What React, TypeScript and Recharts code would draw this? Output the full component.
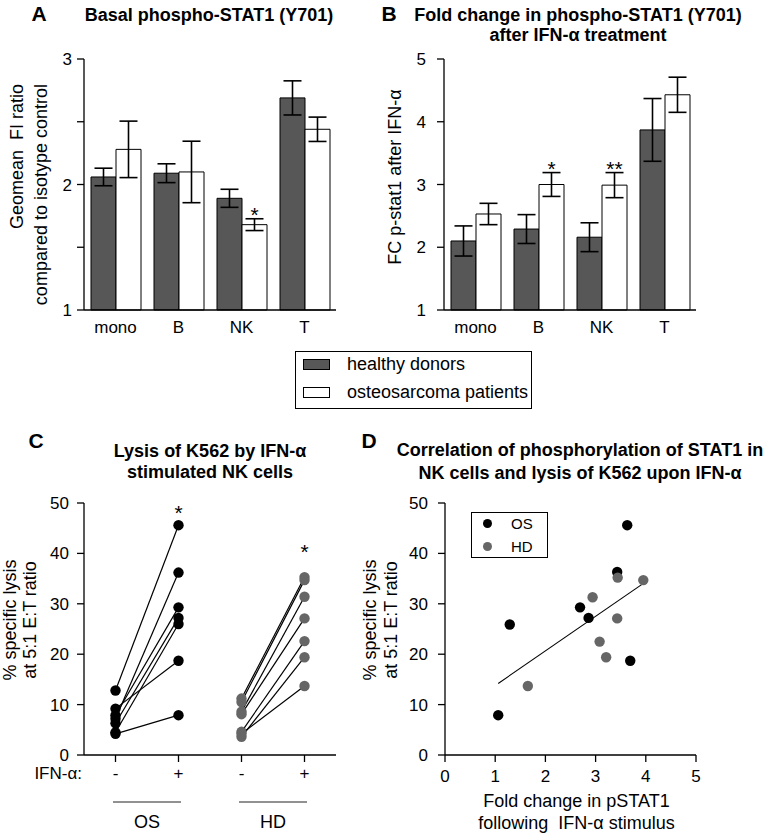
import React from "react"
import {
  BarChart,
  Bar,
  ErrorBar,
  LabelList,
  ComposedChart,
  Scatter,
  Line,
  XAxis,
  YAxis,
  Legend,
} from "recharts"

const FONT = '"Liberation Sans", Arial, Helvetica, sans-serif'
const DARK = "#575757"
const GREY = "#666666"

// A: basal phospho-STAT1
const cellTypes = ["mono", "B", "NK", "T"]
const basalHD = [2.06, 2.09, 1.89, 2.69]
const basalHDErr = [0.07, 0.075, 0.072, 0.136]
const basalOS = [2.28, 2.1, 1.68, 2.44]
const basalOSErr = [0.225, 0.245, 0.047, 0.097]
const basalSig = ["", "", "*", ""]

// B: fold change after IFN-a
const foldHD = [2.1, 2.29, 2.16, 3.87]
const foldHDErr = [0.24, 0.23, 0.23, 0.5]
const foldOS = [2.53, 3.0, 2.99, 4.43]
const foldOSErr = [0.17, 0.19, 0.2, 0.28]
const foldSig = ["", "*", "**", ""]

// C: lysis of K562, paired before/after
const ifnTicks = [0.5, 1.5, 2.5, 3.5]
const ifnLabels = ["-", "+", "-", "+"]
const groupTicks = [1, 3]
const groupNames = ["OS", "HD"]
const osBefore = [12.8, 9.2, 7.9, 7.2, 6.3, 4.5, 4.2]
const osAfter = [45.6, 18.7, 29.3, 36.2, 27.2, 26.0, 7.9]
const hdBefore = [11.2, 10.5, 8.6, 8.1, 4.6, 3.6, 4.2]
const hdAfter = [35.3, 34.7, 31.4, 27.1, 22.6, 19.4, 13.7]
const lysisStarX = [1.5, 3.5]
const lysisStarY = [48.8, 41.1]

// D: correlation
const corrOSx = [3.63, 3.43, 2.69, 2.86, 1.29, 3.69, 1.06]
const corrOSy = [45.6, 36.3, 29.3, 27.2, 25.9, 18.7, 7.9]
const corrHDx = [3.44, 3.95, 2.94, 3.43, 3.08, 3.21, 1.65]
const corrHDy = [35.2, 34.7, 31.3, 27.1, 22.5, 19.4, 13.7]
const trendX = [1.06, 3.96]
const trendY = [14.2, 34.1]

const basalData = cellTypes.map((c, i) => ({
  cell: c, hd: basalHD[i], hdErr: basalHDErr[i], os: basalOS[i], osErr: basalOSErr[i], sig: basalSig[i],
}))
const foldData = cellTypes.map((c, i) => ({
  cell: c, hd: foldHD[i], hdErr: foldHDErr[i], os: foldOS[i], osErr: foldOSErr[i], sig: foldSig[i],
}))

const pairs = (before: number[], after: number[], x0: number, x1: number) =>
  before.map((b, i) => [
    { x: x0, y: b },
    { x: x1, y: after[i] },
  ])
const osPairs = pairs(osBefore, osAfter, 0.5, 1.5)
const hdPairs = pairs(hdBefore, hdAfter, 2.5, 3.5)
const osDots = osPairs.flat()
const hdDots = hdPairs.flat()
const starPts = lysisStarX.map((x, i) => ({ x, y: lysisStarY[i] }))
const groupPts = groupTicks.map((x) => ({ x, y: 0 }))

const corrOS = corrOSx.map((x, i) => ({ x, y: corrOSy[i] }))
const corrHD = corrHDx.map((x, i) => ({ x, y: corrHDy[i] }))
const trend = trendX.map((x, i) => ({ x, y: trendY[i] }))

const AX = { stroke: "#000", strokeWidth: 1.3 }
const tickFont = { fill: "#000", fontSize: 17, fontFamily: FONT }

const yTitle = (lines: string[], xs: number[], y: number, anchor: string) => () => (
  <g>
    {lines.map((t, i) => (
      <text
        key={i}
        x={xs[i]}
        y={y}
        transform={`rotate(-90 ${xs[i]} ${y})`}
        textAnchor={anchor}
        dominantBaseline="central"
        fontSize={18}
        fontFamily={FONT}
        fill="#000"
        style={{ whiteSpace: "pre" }}
      >
        {t}
      </text>
    ))}
  </g>
)

const starLabel = (rows: any[]) => (p: any) => {
  const vb = p.viewBox || p
  const r = rows[p.index]
  if (!r || !r.sig) return null
  const base = 1
  const errPx = (vb.height * r.osErr) / (r.os - base)
  return (
    <text x={vb.x + vb.width / 2} y={vb.y - errPx + 3} textAnchor="middle" fontSize={21} fontFamily={FONT} fill="#000">
      {r.sig}
    </text>
  )
}

const BarLegend = (props: any) => {
  const items = (props.payload || []).filter((it: any) => it.type !== "none")
  return (
    <div
      style={{
        boxSizing: "border-box",
        width: 237,
        height: 58,
        border: "1px solid #000",
        background: "#fff",
        position: "relative",
        fontFamily: FONT,
        fontSize: 18,
        color: "#000",
      }}
    >
      {items.map((it: any, i: number) => (
        <div key={i} style={{ position: "absolute", left: 7, top: i * 28, height: 24, display: "flex", alignItems: "center" }}>
          <span
            style={{ boxSizing: "border-box", display: "inline-block", width: 27, height: 11, border: "1px solid #000", background: it.color }}
          />
          <span style={{ marginLeft: 17, whiteSpace: "nowrap" }}>{it.value}</span>
        </div>
      ))}
    </div>
  )
}

const DotLegend = (props: any) => {
  const items = (props.payload || [])
    .filter((it: any) => it.type !== "none" && groupNames.includes(it.value))
    .sort((a: any, b: any) => groupNames.indexOf(a.value) - groupNames.indexOf(b.value))
  return (
    <div
      style={{
        boxSizing: "border-box",
        width: 77,
        height: 46,
        border: "1px solid #000",
        background: "#fff",
        position: "relative",
        fontFamily: FONT,
        fontSize: 15,
        color: "#000",
      }}
    >
      {items.map((it: any, i: number) => (
        <div key={i} style={{ position: "absolute", left: 11, top: i * 23 - 1, height: 22, display: "flex", alignItems: "center" }}>
          <span style={{ display: "inline-block", width: 9, height: 9, borderRadius: 5, background: it.color }} />
          <span style={{ marginLeft: 19 }}>{it.value}</span>
        </div>
      ))}
    </div>
  )
}

const intOnly = (v: number) => (Number.isInteger(v) ? String(v) : "")

function BasalChart() {
  return (
    <BarChart width={384} height={345} data={basalData} margin={{ top: 59, right: 48, bottom: 0, left: 0 }} barGap={0}>
      <XAxis dataKey="cell" axisLine={AX} tickLine={false} tickSize={0} tickMargin={11} height={35} tick={tickFont} interval={0} />
      <YAxis
        type="number"
        domain={[1, 3]}
        ticks={[1, 1.5, 2, 2.5, 3]}
        interval={0}
        tickFormatter={intOnly}
        width={84}
        axisLine={AX}
        tickLine={AX}
        tickSize={7}
        tickMargin={5}
        tick={tickFont}
        label={{ content: yTitle(["Geomean  FI ratio", "compared to isotype control"], [17, 41], 84, "end") }}
      />
      <Bar dataKey="hd" name="healthy donors" fill={DARK} stroke="#000" strokeWidth={1} barSize={25} isAnimationActive={false}>
        <ErrorBar dataKey="hdErr" width={9} stroke="#000" strokeWidth={1.6} isAnimationActive={false} />
      </Bar>
      <Bar dataKey="os" name="osteosarcoma patients" fill="#fff" stroke="#000" strokeWidth={1} barSize={25} isAnimationActive={false}>
        <ErrorBar dataKey="osErr" width={9} stroke="#000" strokeWidth={1.6} isAnimationActive={false} />
        <LabelList dataKey="os" content={starLabel(basalData)} />
      </Bar>
      <Legend
        content={<BarLegend />}
        layout="vertical"
        align="center"
        verticalAlign="middle"
        itemSorter={null as any}
        wrapperStyle={{ left: 295, top: 351, width: 237, height: 58 }}
      />
    </BarChart>
  )
}

function FoldChart() {
  return (
    <BarChart width={383} height={345} data={foldData} margin={{ top: 59, right: 71, bottom: 0, left: 0 }} barGap={0}>
      <XAxis dataKey="cell" axisLine={AX} tickLine={false} tickSize={0} tickMargin={11} height={35} tick={tickFont} interval={0} />
      <YAxis
        type="number"
        domain={[1, 5]}
        ticks={[1, 2, 3, 4, 5]}
        interval={0}
        width={60}
        axisLine={AX}
        tickLine={AX}
        tickSize={7}
        tickMargin={11}
        tick={tickFont}
        label={{ content: yTitle(["FC p-stat1 after IFN-α"], [11], 177, "middle") }}
      />
      <Bar dataKey="hd" name="healthy donors" fill={DARK} stroke="#000" strokeWidth={1} barSize={25} isAnimationActive={false}>
        <ErrorBar dataKey="hdErr" width={9} stroke="#000" strokeWidth={1.6} isAnimationActive={false} />
      </Bar>
      <Bar dataKey="os" name="osteosarcoma patients" fill="#fff" stroke="#000" strokeWidth={1} barSize={25} isAnimationActive={false}>
        <ErrorBar dataKey="osErr" width={9} stroke="#000" strokeWidth={1.6} isAnimationActive={false} />
        <LabelList dataKey="os" content={starLabel(foldData)} />
      </Bar>
    </BarChart>
  )
}

const dotShape = (fill: string) => (p: any) => <circle cx={p.cx} cy={p.cy} r={5.2} fill={fill} />
const noShape = () => <g />

const StarShape = (p: any) => (
  <text x={p.cx} y={p.cy + 11} textAnchor="middle" fontSize={21} fontFamily={FONT} fill="#000">
    *
  </text>
)

const GroupTick = (p: any) => {
  const name = groupNames[groupTicks.indexOf(p.payload.value)]
  return (
    <g>
      <line x1={p.x - 34} x2={p.x + 34} y1={p.y + 17} y2={p.y + 17} stroke="#222" strokeWidth={1} />
      <text x={p.x} y={p.y + 43} textAnchor="middle" fontSize={18} fontFamily={FONT} fill="#000">
        {name}
      </text>
    </g>
  )
}

const ifnAxisLabel = (p: any) => {
  const vb = p.viewBox || { x: 84, y: 335 }
  return (
    <text x={vb.x - 2} y={vb.y + 24} textAnchor="end" fontSize={17} fontFamily={FONT} fill="#000">
      IFN-α:
    </text>
  )
}

function LysisChart() {
  return (
    <ComposedChart width={384} height={413} margin={{ top: 83, right: 48, bottom: 0, left: 0 }}>
      <XAxis
        xAxisId={0}
        dataKey="x"
        type="number"
        domain={[0, 4]}
        ticks={ifnTicks}
        interval={0}
        tickFormatter={(v: number) => ifnLabels[ifnTicks.indexOf(v)]}
        axisLine={AX}
        tickLine={AX}
        tickSize={7}
        tickMargin={5}
        height={30}
        tick={tickFont}
        label={{ content: ifnAxisLabel }}
      />
      <XAxis
        xAxisId="grp"
        dataKey="x"
        type="number"
        domain={[0, 4]}
        ticks={groupTicks}
        interval={0}
        axisLine={false}
        tickLine={false}
        tickSize={0}
        tickMargin={0}
        height={48}
        tick={<GroupTick />}
      />
      <YAxis
        dataKey="y"
        type="number"
        domain={[0, 50]}
        ticks={[0, 10, 20, 30, 40, 50]}
        interval={0}
        width={84}
        axisLine={AX}
        tickLine={AX}
        tickSize={7}
        tickMargin={8}
        tick={tickFont}
        label={{ content: yTitle(["% specific lysis", "at 5:1 E:T ratio"], [10, 30], 200, "middle") }}
      />
      <Scatter xAxisId="grp" data={groupPts} shape={noShape} isAnimationActive={false} legendType="none" />
      <Scatter name="OS" data={osDots} fill="#000" shape={dotShape("#000")} isAnimationActive={false} />
      <Scatter name="HD" data={hdDots} fill={GREY} shape={dotShape(GREY)} isAnimationActive={false} />
      {osPairs.map((d, i) => (
        <Line key={"os" + i} data={d} dataKey="y" stroke="#000" strokeWidth={1.2} dot={false} isAnimationActive={false} legendType="none" />
      ))}
      {hdPairs.map((d, i) => (
        <Line key={"hd" + i} data={d} dataKey="y" stroke="#000" strokeWidth={1.2} dot={false} isAnimationActive={false} legendType="none" />
      ))}
      <Scatter data={starPts} shape={StarShape} isAnimationActive={false} legendType="none" />
    </ComposedChart>
  )
}

const corrXLabel = (p: any) => {
  const vb = p.viewBox || { x: 101, y: 335, width: 251 }
  const cx = vb.x + vb.width / 2 + 6
  return (
    <g>
      <text x={cx} y={vb.y + 46} textAnchor="middle" dominantBaseline="central" fontSize={18} fontFamily={FONT} fill="#000">
        Fold change in pSTAT1
      </text>
      <text x={cx} y={vb.y + 68} textAnchor="middle" dominantBaseline="central" fontSize={18} fontFamily={FONT} fill="#000" style={{ whiteSpace: "pre" }}>
        following  IFN-α stimulus
      </text>
    </g>
  )
}

function CorrelationChart() {
  return (
    <ComposedChart width={423} height={413} margin={{ top: 83, right: 71, bottom: 0, left: 0 }}>
      <XAxis
        dataKey="x"
        type="number"
        domain={[0, 5]}
        ticks={[0, 1, 2, 3, 4, 5]}
        interval={0}
        axisLine={AX}
        tickLine={AX}
        tickSize={7}
        tickMargin={8}
        height={78}
        tick={tickFont}
        label={{ content: corrXLabel }}
      />
      <YAxis
        dataKey="y"
        type="number"
        domain={[0, 50]}
        ticks={[0, 10, 20, 30, 40, 50]}
        interval={0}
        width={101}
        axisLine={AX}
        tickLine={AX}
        tickSize={7}
        tickMargin={10}
        tick={tickFont}
        label={{ content: yTitle(["% specific lysis", "at 5:1 E:T ratio"], [26, 47], 200, "middle") }}
      />
      <Scatter name="OS" data={corrOS} fill="#000" shape={dotShape("#000")} isAnimationActive={false} />
      <Scatter name="HD" data={corrHD} fill={GREY} shape={dotShape(GREY)} isAnimationActive={false} />
      <Line data={trend} dataKey="y" stroke="#000" strokeWidth={1.1} dot={false} isAnimationActive={false} legendType="none" />
      <Legend
        content={<DotLegend />}
        layout="vertical"
        align="center"
        verticalAlign="middle"
        wrapperStyle={{ left: 127, top: 92, width: 77, height: 46 }}
      />
    </ComposedChart>
  )
}

const Letter = ({ x, y, t }: any) => (
  <div
    style={{
      position: "absolute",
      left: x - 15,
      top: y - 12,
      width: 30,
      lineHeight: "24px",
      textAlign: "center",
      fontSize: 21,
      fontWeight: "bold",
    }}
  >
    {t}
  </div>
)

const Title = ({ cx, cy, lh, lines }: any) => (
  <div
    style={{
      position: "absolute",
      left: cx - 220,
      top: cy - lh / 2,
      width: 440,
      lineHeight: lh + "px",
      textAlign: "center",
      fontSize: 18,
      fontWeight: "bold",
      whiteSpace: "nowrap",
    }}
  >
    {lines.map((l: string, i: number) => (
      <div key={i}>{l}</div>
    ))}
  </div>
)

export default function App() {
  return (
    <div style={{ position: "absolute", left: 0, top: 0, width: 767, height: 833, background: "#fff", fontFamily: FONT, color: "#000" }}>
      <div style={{ position: "absolute", left: 0, top: 0 }}>
        <BasalChart />
      </div>
      <div style={{ position: "absolute", left: 384, top: 0 }}>
        <FoldChart />
      </div>
      <div style={{ position: "absolute", left: 0, top: 420 }}>
        <LysisChart />
      </div>
      <div style={{ position: "absolute", left: 344, top: 420 }}>
        <CorrelationChart />
      </div>
      <Letter x={39} y={14} t="A" />
      <Letter x={389} y={14} t="B" />
      <Letter x={36} y={441} t="C" />
      <Letter x={369} y={441} t="D" />
      <Title cx={209} cy={15} lh={20} lines={["Basal phospho-STAT1 (Y701)"]} />
      <Title cx={578} cy={15} lh={20} lines={["Fold change in phospho-STAT1 (Y701)", "after IFN-α treatment"]} />
      <Title cx={210} cy={451} lh={21} lines={["Lysis of K562 by IFN-α", "stimulated NK cells"]} />
      <Title cx={580} cy={450} lh={23} lines={["Correlation of phosphorylation of STAT1 in", "NK cells and lysis of K562 upon IFN-α"]} />
    </div>
  )
}
